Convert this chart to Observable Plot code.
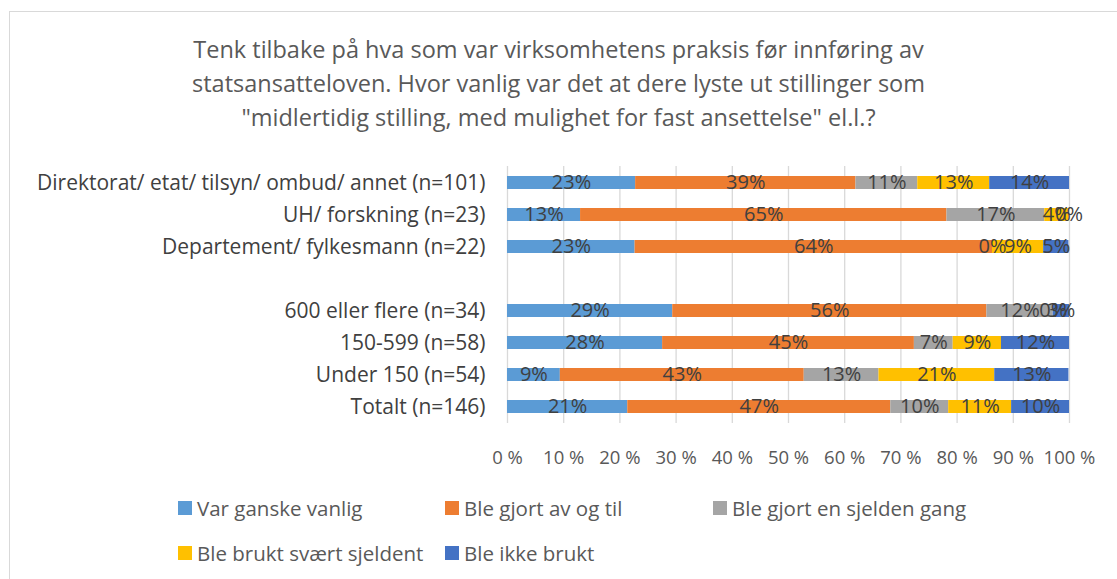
<!DOCTYPE html>
<html>
<head>
<meta charset="utf-8">
<script src="https://cdn.jsdelivr.net/npm/d3@7"></script>
<script src="https://cdn.jsdelivr.net/npm/@observablehq/plot@0.6"></script>
<style>
  html, body { margin: 0; padding: 0; background: #fff; }
  body { width: 1117px; height: 579px; overflow: hidden; position: relative; font-family: "Open Sans", "Noto Sans", sans-serif; }
  #frame { position: absolute; left: 9px; top: 11px; width: 1200px; height: 700px; border: 1px solid #d9d9d9; box-sizing: border-box; }
  #title { position: absolute; left: 0; width: 1117px; top: 32px; text-align: center; color: #595959; font-size: 23.5px; line-height: 34px; }
  #chart { position: absolute; left: 0; top: 150px; }
  .legend { position: absolute; color: #595959; font-size: 20.5px; display: flex; align-items: center; white-space: nowrap; }
  .legend span.sw { display: inline-block; width: 14px; height: 14px; margin-right: 5px; }
</style>
</head>
<body>
<div id="frame"></div>
<div id="title">Tenk tilbake på hva som var virksomhetens praksis før innføring av<br>statsansatteloven. Hvor vanlig var det at dere lyste ut stillinger som<br>"midlertidig stilling, med mulighet for fast ansettelse" el.l.?</div>
<div id="chart"></div>
<div id="legend"></div>
<script>
const categories = [
  "Direktorat/ etat/ tilsyn/ ombud/ annet (n=101)",
  "UH/ forskning (n=23)",
  "Departement/ fylkesmann (n=22)",
  " ",
  "600 eller flere (n=34)",
  "150-599 (n=58)",
  "Under 150 (n=54)",
  "Totalt (n=146)"
];
const seriesNames = ["Var ganske vanlig", "Ble gjort av og til", "Ble gjort en sjelden gang", "Ble brukt svært sjeldent", "Ble ikke brukt"];
const seriesColors = ["#5B9BD5", "#ED7D31", "#A5A5A5", "#FFC000", "#4472C4"];
// values in percent, per category (blank row has none)
const varGanskeVanlig   = [22.8, 13.0, 22.7, null, 29.4, 27.6,  9.4, 21.4];
const bleGjortAvOgTil   = [39.2, 65.2, 63.6, null, 55.9, 44.8, 43.4, 46.8];
const bleGjortSjelden   = [11.0, 17.4,  0.0, null, 11.8,  6.9, 13.3, 10.3];
const bleBruktSvaertSj  = [12.8,  4.3,  9.1, null,  0.0,  8.6, 20.6, 11.2];
const bleIkkeBrukt      = [14.2,  0.0,  4.5, null,  2.9, 12.1, 13.2, 10.3];
const labelsA = ["23%","13%","23%",null,"29%","28%","9%","21%"];
const labelsB = ["39%","65%","64%",null,"56%","45%","43%","47%"];
const labelsC = ["11%","17%","0%",null,"12%","7%","13%","10%"];
const labelsD = ["13%","4%","9%",null,"0%","9%","21%","11%"];
const labelsE = ["14%","0%","5%",null,"3%","12%","13%","10%"];
const xTicks = [0,10,20,30,40,50,60,70,80,90,100];

const seriesValues = [varGanskeVanlig, bleGjortAvOgTil, bleGjortSjelden, bleBruktSvaertSj, bleIkkeBrukt];
const seriesLabels = [labelsA, labelsB, labelsC, labelsD, labelsE];

const rows = [];
categories.forEach((c, i) => {
  let x1 = 0;
  seriesNames.forEach((s, j) => {
    const v = seriesValues[j][i];
    if (v == null) return;
    rows.push({cat: c, series: s, x1, x2: x1 + v, mid: x1 + v / 2, label: seriesLabels[j][i]});
    x1 += v;
  });
});

const chart = Plot.plot({
  width: 1117,
  height: 320,
  marginLeft: 507,
  marginRight: 48,
  marginTop: 16,
  marginBottom: 47,
  style: {fontFamily: "Open Sans, Noto Sans, sans-serif", background: "transparent"},
  x: {domain: [0, 100], ticks: xTicks, tickFormat: d => d + " %", label: null},
  y: {domain: categories, paddingInner: 0.6, paddingOuter: 0.2, label: null},
  color: {domain: seriesNames, range: seriesColors},
  marks: [
    Plot.ruleX(xTicks, {stroke: "#d9d9d9", strokeWidth: 1.3}),
    Plot.barX(rows, {y: "cat", x1: "x1", x2: "x2", fill: "series"}),
    Plot.text(rows, {y: "cat", x: "mid", text: "label", fill: "#404040", fontSize: 20}),
    Plot.axisX({ticks: xTicks, tickFormat: d => d + " %", tickSize: 0, tickPadding: 27, fontSize: 18.5, color: "#595959", label: null}),
    Plot.axisY({tickSize: 0, tickPadding: 22, fontSize: 21, color: "#404040", label: null})
  ]
});
document.getElementById("chart").appendChild(chart);

const legendPos = [[178, 508], [445, 508], [713, 508], [178, 553], [445, 553]];
const lg = document.getElementById("legend");
seriesNames.forEach((s, j) => {
  const d = document.createElement("div");
  d.className = "legend";
  d.style.left = legendPos[j][0] + "px";
  d.style.top = (legendPos[j][1] - 12) + "px";
  d.style.height = "24px";
  d.innerHTML = `<span class="sw" style="background:${seriesColors[j]}"></span>${s}`;
  lg.appendChild(d);
});
</script>
</body>
</html>
